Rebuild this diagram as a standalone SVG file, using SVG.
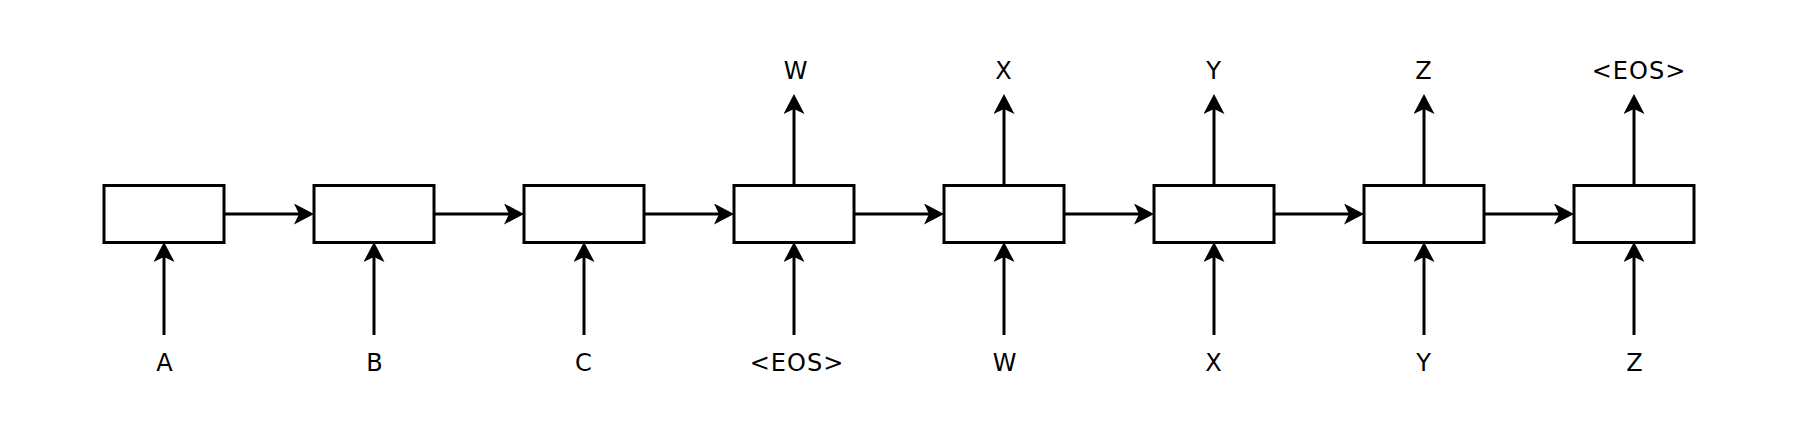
<svg xmlns="http://www.w3.org/2000/svg" width="1796" height="422" viewBox="0 0 1796 422">
<style>
.box{fill:#fff;stroke:#000;stroke-width:3}
.conn{stroke:#000;stroke-width:3;fill:none;marker-end:url(#ah)}
.lbl{font-family:"DejaVu Sans",sans-serif;font-size:24px;letter-spacing:1px;fill:#000;text-anchor:middle}
</style>
<defs>
<marker id="ah" viewBox="0 0 20 21" refX="10" refY="10.5" markerWidth="20" markerHeight="21" markerUnits="userSpaceOnUse" orient="auto">
<path d="M0,0 L20,10.5 L0,21 L5,10.5 Z" fill="#000"/>
</marker>
</defs>
<rect width="1796" height="422" fill="#fff"/>
<g id="connectors">
<line class="conn" x1="224" y1="214" x2="304" y2="214"/>
<line class="conn" x1="434" y1="214" x2="514" y2="214"/>
<line class="conn" x1="644" y1="214" x2="724" y2="214"/>
<line class="conn" x1="854" y1="214" x2="934" y2="214"/>
<line class="conn" x1="1064" y1="214" x2="1144" y2="214"/>
<line class="conn" x1="1274" y1="214" x2="1354" y2="214"/>
<line class="conn" x1="1484" y1="214" x2="1564" y2="214"/>
<line class="conn" x1="164" y1="335" x2="164" y2="252"/>
<line class="conn" x1="374" y1="335" x2="374" y2="252"/>
<line class="conn" x1="584" y1="335" x2="584" y2="252"/>
<line class="conn" x1="794" y1="335" x2="794" y2="252"/>
<line class="conn" x1="1004" y1="335" x2="1004" y2="252"/>
<line class="conn" x1="1214" y1="335" x2="1214" y2="252"/>
<line class="conn" x1="1424" y1="335" x2="1424" y2="252"/>
<line class="conn" x1="1634" y1="335" x2="1634" y2="252"/>
<line class="conn" x1="794" y1="185.5" x2="794" y2="104"/>
<line class="conn" x1="1004" y1="185.5" x2="1004" y2="104"/>
<line class="conn" x1="1214" y1="185.5" x2="1214" y2="104"/>
<line class="conn" x1="1424" y1="185.5" x2="1424" y2="104"/>
<line class="conn" x1="1634" y1="185.5" x2="1634" y2="104"/>
</g>
<g id="node1"><rect class="box" x="104" y="185.5" width="120" height="57"/></g>
<g id="node2"><rect class="box" x="314" y="185.5" width="120" height="57"/></g>
<g id="node3"><rect class="box" x="524" y="185.5" width="120" height="57"/></g>
<g id="node4"><rect class="box" x="734" y="185.5" width="120" height="57"/></g>
<g id="node5"><rect class="box" x="944" y="185.5" width="120" height="57"/></g>
<g id="node6"><rect class="box" x="1154" y="185.5" width="120" height="57"/></g>
<g id="node7"><rect class="box" x="1364" y="185.5" width="120" height="57"/></g>
<g id="node8"><rect class="box" x="1574" y="185.5" width="120" height="57"/></g>
<g id="labels-in">
<text class="lbl" x="165" y="371">A</text>
<text class="lbl" x="375" y="371">B</text>
<text class="lbl" x="584" y="371">C</text>
<text class="lbl" x="797" y="371">&lt;EOS&gt;</text>
<text class="lbl" x="1005" y="371">W</text>
<text class="lbl" x="1214" y="371">X</text>
<text class="lbl" x="1424" y="371">Y</text>
<text class="lbl" x="1635" y="371">Z</text>
</g>
<g id="labels-out">
<text class="lbl" x="796" y="79">W</text>
<text class="lbl" x="1004" y="79">X</text>
<text class="lbl" x="1214" y="79">Y</text>
<text class="lbl" x="1424" y="79">Z</text>
<text class="lbl" x="1639" y="79">&lt;EOS&gt;</text>
</g>
</svg>
